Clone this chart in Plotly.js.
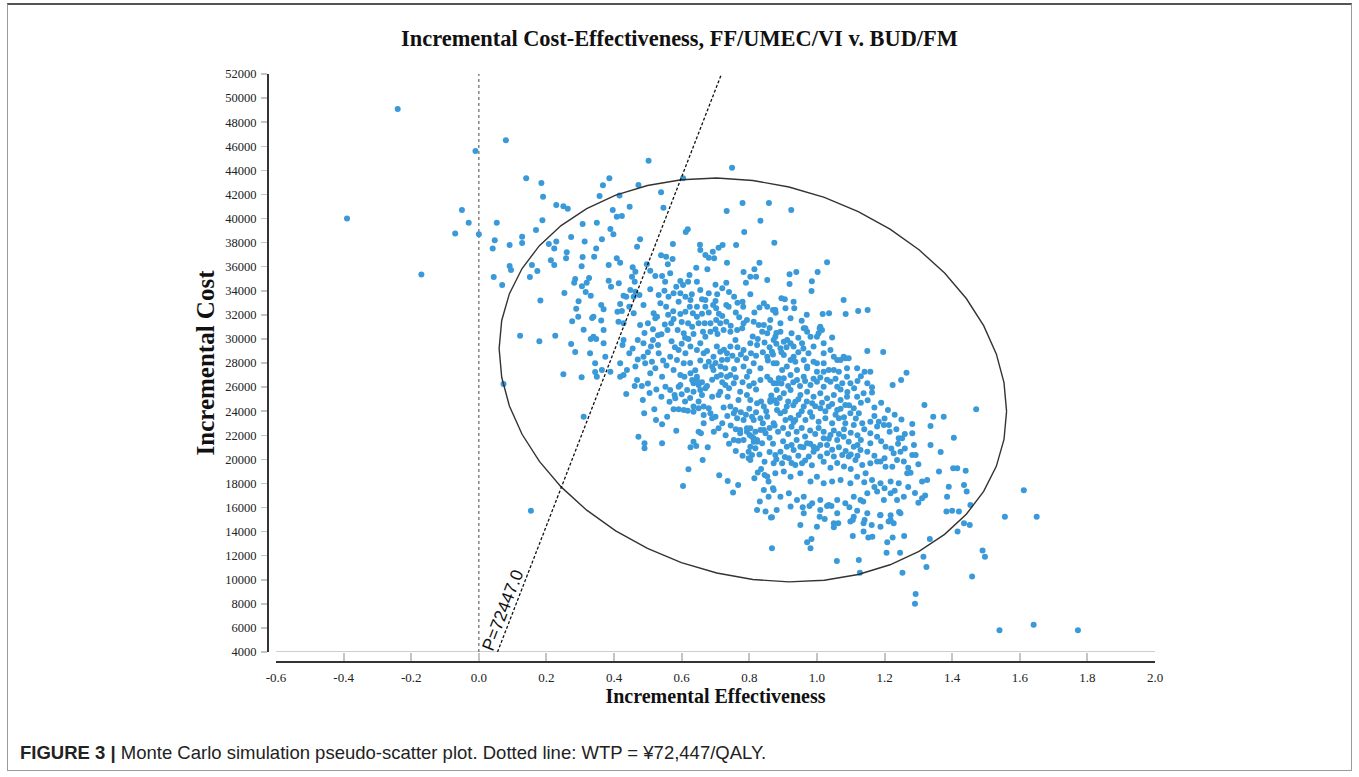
<!DOCTYPE html>
<html>
<head>
<meta charset="utf-8">
<script src="https://cdn.plot.ly/plotly-3.0.1.min.js"></script>
<style>
  html, body { margin: 0; padding: 0; background: #fff; }
  #wrap { position: relative; width: 1359px; height: 777px; overflow: hidden; }
  #chart { position: absolute; left: 0; top: 0; width: 1359px; height: 777px; }
  #frame { position: absolute; left: 7px; top: 3px; width: 1343px; height: 765px;
           border: 1px solid #9a9a9a; border-top: 2px solid #555; pointer-events: none; }
</style>
</head>
<body>
<div id="wrap">
  <div id="chart"></div>
  <div id="frame"></div>
</div>
<script>
// ---------------- data (incremental effectiveness, incremental cost) ----------------
const outlyingPoints = [
  [-0.24,49100],[-0.39,40000],[-0.17,35350],[-0.01,45600],[0.08,46500],[-0.05,40700],[-0.03,39650],[-0.07,38750],[0.0,38700],
  [0.14,43350],[0.185,42950],[0.19,41800],[0.229,41120],[0.25,41010],[0.263,40815],[0.053,39650],[0.188,39850],[0.169,39050],
  [0.128,38490],[0.128,37965],[0.047,38190],[0.041,37500],[0.091,37800],[0.207,37880],[0.229,38080],[0.223,37500],[0.273,38470],
  [0.307,39550],[0.313,38080],[0.349,39650],[0.26,37190],[0.258,36700],[0.307,36800],[0.341,36830],[0.347,37500],[0.304,36030],
  [0.091,36060],[0.095,35725],[0.157,36140],[0.173,35640],[0.151,35140],[0.213,36530],[0.223,36140],[0.044,35140],[0.069,34480],
  [0.285,34980],[0.282,34670],[0.305,34370],[0.319,34670],[0.326,35060],[0.316,33900],[0.331,33590],[0.253,33810],[0.182,33200],
  [0.295,33120],[0.288,32510],[0.294,31850],[0.276,31460],[0.335,31740],[0.31,30770],[0.122,30270],[0.179,29800],[0.226,30270],
  [0.273,29580],[0.285,28920],[0.329,28810],[0.331,29990],[0.347,29990],[0.25,27060],[0.304,26810],[0.344,27250],[0.073,26260],
  [0.31,23540],[0.154,15740],[0.357,41870]
];
const upperClusterPoints = [
  [0.502,44800],[0.749,44220],[0.386,43340],[0.367,42760],[0.472,42780],[0.604,43340],[0.416,41900],[0.539,42180],[0.396,40710],
  [0.446,40980],[0.546,40900],[0.408,40150],[0.423,40210],[0.733,40620],[0.78,41290],[0.858,41290],[0.924,40710],[0.833,39820],
  [0.389,39130],[0.398,38690],[0.618,39100],[0.612,38880],[0.785,38880],[0.364,38270],[0.477,38270],[0.468,37660],[0.574,37880],
  [0.654,37830],[0.655,37380],[0.67,36970],[0.68,36750],[0.696,36700],[0.692,37240],[0.709,37580],[0.721,37800],[0.761,37800],
  [0.874,37990],[0.384,36140],[0.408,36700],[0.418,36330],[0.539,36950],[0.554,36830],[0.573,36640],[0.559,36200],[0.497,36200],
  [0.455,35950],[0.463,35580],[0.453,35170],[0.461,34750],[0.384,34840],[0.391,34340],[0.414,34620],[0.507,35670],[0.522,35230],
  [0.542,35230],[0.566,35450],[0.643,35920],[0.676,35780],[0.734,36330],[0.783,35550],[0.803,35170],[0.82,35170],[0.815,35780],
  [0.83,36330],[0.853,34900],[0.919,35370],[0.939,35560],[0.919,34560],[0.985,34790],[0.984,33980],[1.002,35560],[1.03,36370],
  [1.079,33230],[1.085,32070],[1.017,32070],[1.036,32130],[1.008,30880],[0.961,30880],[0.905,33290],[0.895,33370],[0.907,32540],
  [0.931,33090],[0.878,32180],[0.87,32400],[0.843,32960],[0.853,32680],[0.803,33710],[0.79,34670],[0.78,33090],[0.782,32680],
  [0.732,34670],[0.732,32820],[0.739,32680],[0.70,33150],[0.693,32820],[0.702,32540],[0.67,33230],[0.67,32680],[0.655,34070],
  [0.645,34750],[0.623,35310],[0.619,34750],[0.596,34810],[0.604,34480],[0.584,34340],[0.576,33790],[0.596,33790],[0.611,33510],
  [0.591,33090],[0.626,33230],[0.624,32680],[0.645,32680],[0.633,32130],[0.645,31850],[0.551,34750],[0.549,34010],[0.561,33510],
  [0.532,33650],[0.537,32960],[0.554,32680],[0.517,32130],[0.522,31710],[0.527,31850],[0.507,34120],[0.487,32820],[0.475,33650],
  [0.458,33510],[0.463,33920],[0.448,34070],[0.428,33590],[0.436,33510],[0.418,32900],[0.41,32260],[0.423,32320],[0.445,32680],
  [0.458,32130],[0.369,32460],[0.362,32820],[0.339,31850],[0.362,31520],[0.369,30740],[0.413,31430],[0.428,31300],[0.477,31160],
  [0.339,30190],[0.369,29640],[0.428,29910],[0.425,29500],[0.487,29640],[0.509,29360],[0.54,30390],[0.558,30740],[0.569,31300],
  [0.576,31650],[0.596,32070],[0.611,32260],[0.588,30740],[0.606,30470],[0.619,31300],[0.631,31020],[0.668,31300],[0.685,31300],
  [0.702,31570],[0.663,30600],[0.67,30190],[0.685,30600],[0.70,30800],[0.706,30410],[0.714,31300],[0.724,30740],[0.732,31430],
  [0.744,30600],[0.764,30740],[0.779,30880],[0.783,31300],[0.793,31570],[0.813,31430],[0.828,31160],[0.843,31160],[0.838,30600],
  [0.853,30470],[0.872,29910],[0.892,30600],[0.912,29910],[0.925,30470],[0.956,29640],[0.981,30190],[1.02,29640],[1.04,29080],
  [1.06,28250],[1.084,28390],[0.803,29640],[0.823,29500],[0.783,29080],[0.759,29910],[0.744,29360],[0.734,28810],[0.704,29360],
  [0.714,28940],[0.694,28520],[0.719,28250],[0.655,29640],[0.645,29080],[0.665,28810],[0.626,29360],[0.611,28810],[0.591,29080],
  [0.586,28250],[0.606,27980],[0.566,28520],[0.532,28810],[0.512,28110],[0.522,27560],[0.487,28520],[0.492,27980],[0.463,27700],
  [0.438,27420],[0.418,27980],[0.428,27000],[0.374,28520],[0.344,27980],[0.364,27420],[0.764,28250],[0.783,27700],[0.813,27980],
  [0.833,27560],[0.853,28520],[0.872,27980],[0.897,27420],[0.922,28250],[0.941,27420],[0.971,27700],[1.0,27980],[1.02,27280],
  [1.05,27420],[0.67,27700],[0.694,27420],[0.729,27560],[0.744,27000],[0.704,26860],[0.576,27420],[0.596,27000],[0.626,27140],
  [0.645,26860],[0.542,26860],[0.507,27140],[0.468,26590],[0.389,27280],[0.349,26860]
];
const lowerLeftClusterPoints = [
  [0.418,26860],[0.436,25430],[0.461,26090],[0.482,26090],[0.485,24930],[0.489,23820],[0.519,24160],[0.524,23270],[0.542,22910],
  [0.472,21880],[0.49,21330],[0.49,20920],[0.542,21330],[0.557,23540],[0.584,22380],[0.552,26030],[0.566,25760],[0.579,25340],
  [0.591,26030],[0.596,26170],[0.564,24790],[0.581,25070],[0.576,24160],[0.591,24160],[0.606,24100],[0.618,24040],[0.608,26860],
  [0.631,26590],[0.616,25760],[0.635,25620],[0.645,26590],[0.655,25760],[0.66,25340],[0.635,24380],[0.65,24240],[0.635,23960],
  [0.665,24380],[0.68,24240],[0.665,23690],[0.685,23820],[0.665,23000],[0.69,23410],[0.70,23540],[0.65,22300],[0.657,22160],
  [0.695,22300],[0.709,22580],[0.635,21470],[0.626,21000],[0.643,21110],[0.677,21000],[0.662,19950],[0.62,19170],[0.604,17790],
  [0.711,18670],[0.736,18200],[0.752,17240],[0.767,17870],[0.716,27000],[0.734,26860],[0.729,26170],[0.714,25620],[0.736,25200],
  [0.709,25340],[0.754,26320],[0.773,25620],[0.793,25340],[0.768,24930],[0.744,24380],[0.759,24100],[0.754,23820],[0.764,23410],
  [0.783,23270],[0.793,22580],[0.773,22160],[0.801,22020],[0.754,21610],[0.768,21550],[0.783,21610],[0.798,20630],[0.818,20920],
  [0.808,20360],[0.803,19950],[0.815,18430],[0.843,17460],[0.857,16900],[0.87,17600],[0.823,15800],[0.848,15660],[0.831,16490],
  [0.864,15160],[0.867,12620],[0.853,18570],[0.857,18150],[0.635,26320],[0.65,26170],[0.793,26860],[0.813,26320],[0.833,26590],
  [0.853,26860],[0.872,26320],[0.887,26730],[0.803,24930],[0.823,24660],[0.843,24380],[0.862,24790],[0.882,24100],[0.808,23540],
  [0.813,23270],[0.833,23410],[0.853,23540],[0.872,23000],[0.803,22580],[0.818,22300],[0.833,22440],[0.848,22160],[0.813,21750],
  [0.823,21470],[0.724,24300],[0.773,22440],[0.793,22300],[0.808,21880],[0.813,21470],[0.803,21050],[0.798,20090],[0.823,21610],
  [0.843,22440],[0.838,21330]
];
const rightClusterPoints = [
  [0.877,32400],[0.933,32540],[1.122,32320],[1.15,32400],[0.862,31570],[0.922,31710],[0.892,31300],[0.966,30880],[0.971,30600],
  [1.01,31020],[1.015,30740],[1.005,30470],[1.0,30190],[1.045,30110],[0.877,30190],[0.902,29770],[0.922,29640],[0.892,29220],
  [0.931,29360],[0.99,29360],[1.02,28810],[1.05,28520],[1.07,28250],[1.079,28520],[1.094,28390],[1.149,29000],[1.196,28920],
  [0.867,28940],[0.902,28670],[0.931,28520],[0.961,28250],[0.99,28110],[1.02,27980],[0.881,27980],[0.911,27700],[0.936,28110],
  [0.971,27560],[1.0,27280],[1.035,27420],[1.065,27280],[1.089,27560],[1.119,27560],[1.141,27280],[1.158,27280],[1.265,27200],
  [1.249,26590],[1.224,26170],[1.149,26320],[1.163,25980],[1.163,25540],[1.138,25490],[1.119,25200],[1.089,26860],[1.099,26320],
  [1.075,26320],[1.06,26030],[1.04,26450],[1.02,26030],[1.0,26450],[0.981,26170],[0.961,26860],[0.941,26590],[0.922,27000],
  [0.902,26730],[0.881,26320],[0.862,26590],[0.881,25760],[0.902,25490],[0.922,25760],[0.951,25340],[0.971,25620],[0.99,25200],
  [1.01,25490],[1.03,25070],[1.05,25340],[1.07,24930],[1.089,25200],[0.862,24930],[0.881,24660],[0.911,24380],[0.936,24790],
  [0.961,24380],[0.986,24660],[1.01,24240],[1.035,24380],[1.06,24100],[1.084,24520],[1.109,24240],[1.124,23820],[1.099,23820],
  [0.922,23430],[0.931,23100],[0.936,23270],[0.892,23820],[0.907,23270],[0.946,23680],[0.966,23270],[0.986,23540],[1.005,23130],
  [1.025,23410],[1.045,23000],[1.065,23410],[1.084,23000],[1.109,22850],[1.134,23000],[1.158,23130],[1.183,23130],[1.198,22850],
  [1.213,22850],[1.282,22940],[1.282,22160],[1.287,21190],[1.336,22770],[1.344,23540],[1.375,23540],[1.318,24520],[1.471,24160],
  [1.405,21800],[1.366,20610],[1.336,21190],[1.252,21750],[1.242,21750],[1.247,20640],[1.227,20500],[1.203,21050],[1.188,19810],
  [1.203,19390],[1.223,19390],[1.237,19950],[1.257,19810],[1.282,20360],[1.292,20360],[1.178,22720],[1.158,22160],[1.178,21880],
  [1.158,21330],[1.149,20640],[1.129,20780],[1.109,21050],[1.094,21470],[1.079,21880],[1.06,21610],[1.04,22020],[1.02,21750],
  [1.01,21190],[0.99,21050],[0.971,21330],[0.951,21050],[0.931,20780],[0.911,21050],[0.892,20640],[0.877,20360],[0.872,19670],
  [0.897,19670],[0.917,20090],[0.936,19530],[0.956,19670],[0.976,20230],[0.99,20640],[1.01,20230],[1.03,20500],[1.05,20230],
  [1.075,20360],[1.094,20230],[1.114,19950],[1.134,19530],[1.158,19670],[1.178,19810],[0.877,18840],[0.902,18980],[0.922,18560],
  [0.951,18840],[0.981,18150],[1.0,18560],[1.02,18010],[1.045,18150],[1.07,18290],[1.099,18010],[1.119,18560],[1.144,18840],
  [1.163,18290],[1.188,18010],[1.218,18150],[1.242,18010],[1.267,18840],[1.277,18890],[1.311,18150],[1.326,18290],[1.361,18980],
  [1.403,19260],[1.415,19260],[1.44,19060],[1.39,17730],[1.435,17870],[1.443,17320],[1.311,16770],[1.385,16900],[1.454,16210],
  [1.383,15660],[1.4,15740],[1.42,15660],[1.556,15240],[1.612,17430],[1.435,14690],[1.452,14550],[0.872,17460],[0.892,16900],
  [0.917,17180],[0.941,16630],[0.961,16900],[0.986,16350],[1.01,16630],[1.035,16210],[1.06,16630],[1.084,16350],[1.109,16900],
  [1.129,16630],[1.149,17180],[1.178,17320],[1.198,16630],[1.218,17180],[1.237,16630],[1.257,16900],[0.881,15800],[0.922,16080],
  [0.961,15520],[1.01,15800],[1.06,15520],[1.109,15240],[1.149,15520],[1.188,15380],[1.218,14970],[1.247,15520],[0.951,14550],
  [1.0,14410],[1.05,14690],[1.099,14830],[1.138,14690],[1.188,14410],[1.227,14690]
];
const lowerTailPoints = [
  [0.958,16020],[0.978,16130],[1.03,16130],[1.043,16130],[1.096,16020],[1.119,15740],[1.137,16490],[0.867,15190],[1.008,15240],
  [1.023,15050],[1.05,14360],[1.063,14690],[1.106,14960],[1.141,14960],[1.162,14550],[1.187,15350],[1.212,14840],[1.218,15360],
  [1.243,15630],[0.971,13110],[0.984,13390],[0.981,12620],[1.106,13640],[1.138,14000],[1.152,13500],[1.164,13580],[1.208,13110],
  [1.224,13500],[1.258,13640],[1.059,11560],[1.124,11640],[1.127,10590],[1.206,12250],[1.246,12250],[1.253,10590],[1.315,11920],
  [1.324,11060],[1.334,13390],[1.292,8820],[1.29,8010],[1.416,14000],[1.49,12420],[1.497,11920],[1.459,10270],[1.65,15240],
  [1.54,5800],[1.641,6270],[1.772,5800]
];
const denseCorePoints = [
  [0.625,28000],[0.64,27400],[0.655,28200],[0.675,29000],[0.68,28100],[0.69,27700],[0.7,28000],[0.715,27700],[0.725,29100],
  [0.735,28300],[0.75,28600],[0.755,27500],[0.765,29300],[0.775,28700],[0.79,28400],[0.8,27300],[0.66,26400],[0.675,26100],
  [0.69,26600],[0.72,26400],[0.74,25900],[0.76,26800],[0.78,26400],[0.8,26100],[0.82,25800],
  [0.81,30200],[0.825,30000],[0.845,29700],[0.86,29300],[0.88,29600],[0.895,28900],[0.91,29300],[0.945,28900],[0.96,29200],
  [0.975,28800],[0.84,28900],[0.82,28600],[0.855,28200],[0.805,28800],[0.87,28700],[0.955,31500],[0.97,32000],[0.945,30100],
  [0.86,30900],[0.88,30500],[0.815,32200],[0.83,32600],[0.76,32200],[0.77,31800],[0.745,31100],
  [0.62,30000],[0.635,30400],[0.65,31300],[0.66,32100],[0.68,32200],[0.71,32100],[0.72,31900],[0.705,33700],[0.72,34200],
  [0.74,33900],[0.755,33500],[0.765,33000],[0.68,33800],[0.7,34500],[0.66,33300],[0.63,33700],[0.6,31400],[0.575,32300],
  [0.56,32000],[0.55,31200],[0.53,30300],[0.515,30800],[0.5,31300],[0.49,30500],[0.47,29900],
  [0.865,25300],[0.875,24900],[0.89,25100],[0.905,24000],[0.915,24800],[0.93,24500],[0.945,25000],[0.955,24000],[0.97,24800],
  [0.98,23900],[0.995,24400],[1.015,24700],[1.025,24000],[1.045,24600],[1.055,23700],[1.07,24200],[1.08,23500],[1.095,24500],
  [1.115,23400],[0.875,22800],[0.885,22300],[0.9,22600],[0.915,22100],[0.925,22700],[0.94,22300],[0.955,22600],[0.965,21900],
  [0.98,22400],[0.995,22100],[1.005,22600],[1.02,22300],[1.035,21700],[1.05,22400],[1.065,22100],[1.08,22500],[1.1,22200],
  [1.12,22000],[1.14,22500],[1.13,21600],[1.12,21200],[0.86,21800],[0.87,21300],[0.9,21500],[0.925,21200],[0.94,21600],
  [0.96,21000],[0.98,21300],[1.0,20900],[1.03,21200],[1.045,20800],[1.065,21000],[1.085,20700],[1.1,20400],[1.12,20300],
  [0.88,20000],[0.905,20200],[0.925,19700],[0.945,20300],[0.965,19900],[0.985,19500],[1.02,19800],[1.04,19300],[1.06,19700],
  [1.08,19400],[1.1,19200],
  [1.13,24700],[1.15,24900],[1.17,24300],[1.19,24700],[1.21,24100],[1.23,23700],[1.17,23600],[1.2,23400],[1.25,23300],
  [1.215,22300],[1.235,22500],[1.26,22100],[1.19,21500],[1.22,20900],[1.24,21300],[1.17,20300],[1.2,20100],[1.26,20900],
  [1.27,19300],[1.3,19600],[1.14,18100],[1.17,17700],[1.2,17600],[1.23,17400],[1.27,17700],[1.29,17200],[1.3,16400],[1.32,17000],
  [0.895,26300],[0.915,26100],[0.93,26400],[0.95,26100],[0.965,26500],[0.99,26700],[1.01,26800],[1.03,26600],[1.055,26700],
  [1.07,25800],[1.09,25600],[1.11,25900],[1.12,26500],[1.13,26900],
  [0.5,28900],[0.515,29900],[0.53,29500],[0.545,28200],[0.555,27800],[0.57,29800],[0.58,29300],[0.6,29600],[0.61,30100],
  [0.47,28300],[0.455,29200],[0.445,28800],[0.54,25200],[0.525,25800],[0.505,25500],[0.5,26300],[0.6,25400],[0.61,24800],
  [0.625,25100],[0.65,24800],[0.67,25900],[0.69,25200],
  [0.72,23000],[0.735,23600],[0.745,22800],[0.76,22500],[0.775,23900],[0.79,23700],[0.8,24200],[0.82,23900],[0.835,24800],
  [0.85,24000],[0.84,23000],[0.86,22600],[0.73,22000],[0.74,21300],[0.76,20700],[0.78,20300],[0.83,20400],[0.845,19800],
  [0.86,20600],[0.835,19200],[0.825,18900],[0.845,18700]
];

const wtpPerQaly = 72447;           // willingness-to-pay threshold (slope of dashed line)
const costRange = [4000, 52000];
const effRange = [-0.6, 2.0];
const xTickVals = [-0.6,-0.4,-0.2,0.0,0.2,0.4,0.6,0.8,1.0,1.2,1.4,1.6,1.8,2.0];
const xTickLabels = ['-0.6','-0.4','-0.2','0.0','0.2','0.4','0.6','0.8','1.0','1.2','1.4','1.6','1.8','2.0'];
const yTickVals = [4000,6000,8000,10000,12000,14000,16000,18000,20000,22000,24000,26000,28000,30000,32000,34000,36000,38000,40000,42000,44000,46000,48000,50000,52000];
const yTickLabels = yTickVals.map(String);

// confidence ellipse (centre, half-axis components) in data units
const ellipse = { cx: 0.8105, cy: 26590, ax: 0.7505, cyCos: -2608, cySin: -16568 };

const titleText = 'Incremental Cost-Effectiveness, FF/UMEC/VI v. BUD/FM';
const xTitle = 'Incremental Effectiveness';
const yTitle = 'Incremental Cost';
const captionText = '<b>FIGURE 3 |</b> Monte Carlo simulation pseudo-scatter plot. Dotted line: WTP = ¥72,447/QALY.';

// ---------------- build ----------------
const allPoints = [].concat(outlyingPoints, upperClusterPoints, lowerLeftClusterPoints, rightClusterPoints, lowerTailPoints, denseCorePoints);
const px = allPoints.map(p => p[0]);
const py = allPoints.map(p => p[1]);

const ex = [], ey = [];
const nSeg = 44;
for (let i = 0; i <= nSeg; i++) {
  const t = 2 * Math.PI * i / nSeg;
  ex.push(ellipse.cx + ellipse.ax * Math.cos(t));
  ey.push(ellipse.cy + ellipse.cyCos * Math.cos(t) + ellipse.cySin * Math.sin(t));
}

const wtpX = [costRange[0] / wtpPerQaly, costRange[1] / wtpPerQaly];
const wtpY = [costRange[0], costRange[1]];

const serif = 'Liberation Serif, Times New Roman, serif';
const sans = 'Liberation Sans, Arial, sans-serif';

const traces = [
  { type: 'scatter', mode: 'markers', x: px, y: py, hoverinfo: 'x+y',
    marker: { color: '#3a9ad9', size: 6, line: { width: 0 } }, showlegend: false },
  { type: 'scatter', mode: 'lines', x: ex, y: ey, hoverinfo: 'skip',
    line: { color: '#333333', width: 1.4 }, showlegend: false },
  { type: 'scatter', mode: 'lines', x: wtpX, y: wtpY, hoverinfo: 'skip',
    line: { color: '#111111', width: 1.3, dash: '3px,2px' }, showlegend: false }
];

const W = 1359, H = 777;
const L = 268, R = 1155, T = 74, B = 662;
const plotW = R - L, plotH = B - T;

const layout = {
  width: W, height: H,
  margin: { l: L, r: W - R, t: T, b: H - B, pad: 0 },
  paper_bgcolor: '#ffffff', plot_bgcolor: '#ffffff',
  showlegend: false,
  title: { text: titleText, x: 0.5, xref: 'container', y: 1 - 38 / H, yref: 'container',
           xanchor: 'center', yanchor: 'middle',
           font: { family: serif, size: 22.4, color: '#111', weight: 700 } },
  xaxis: {
    domain: [8 / plotW, 1], range: effRange, anchor: 'free', position: 0,
    showgrid: false, zeroline: false,
    showline: true, linecolor: '#333', linewidth: 2,
    ticks: 'inside', ticklen: 8, tickwidth: 2, tickcolor: '#c4c4c4',
    tickvals: xTickVals, ticktext: xTickLabels, ticklabelstandoff: 3,
    tickfont: { family: serif, size: 13, color: '#222' },
    title: { text: xTitle, standoff: 1, font: { family: serif, size: 20, color: '#111', weight: 700 } },
    automargin: false
  },
  yaxis: {
    domain: [10 / plotH, 1], range: costRange, anchor: 'free', position: 0,
    showgrid: false, zeroline: false,
    showline: true, linecolor: '#333', linewidth: 2,
    ticks: 'outside', ticklen: 6, tickwidth: 1.5, tickcolor: '#c4c4c4',
    tickvals: yTickVals, ticktext: yTickLabels, ticklabelstandoff: 2,
    tickfont: { family: serif, size: 12.5, color: '#222' },
    title: { text: yTitle, standoff: 3, font: { family: serif, size: 25, color: '#111', weight: 700 } },
    automargin: false
  },
  shapes: [
    { type: 'line', xref: 'x', yref: 'y', x0: 0, x1: 0, y0: costRange[0], y1: costRange[1],
      line: { color: '#666', width: 1.2, dash: 'dot' }, layer: 'below' },
    { type: 'line', xref: 'paper', yref: 'y', x0: 8 / plotW, x1: 1, y0: costRange[0], y1: costRange[0],
      line: { color: '#cfcfcf', width: 2 }, layer: 'below' }
  ],
  annotations: [
    { text: 'P=' + wtpPerQaly.toFixed(1), xref: 'x', yref: 'y', x: 0.0705, y: 7490,
      showarrow: false, textangle: -68.8, xanchor: 'center', yanchor: 'middle',
      font: { family: sans, size: 17.5, color: '#111' } },
    { text: captionText, xref: 'paper', yref: 'paper', x: (18 - L) / plotW, y: (B - 752) / plotH,
      xanchor: 'left', yanchor: 'middle', showarrow: false, align: 'left',
      font: { family: sans, size: 18.5, color: '#222' } }
  ]
};

Plotly.newPlot('chart', traces, layout, { displayModeBar: false, staticPlot: true });
</script>
</body>
</html>
